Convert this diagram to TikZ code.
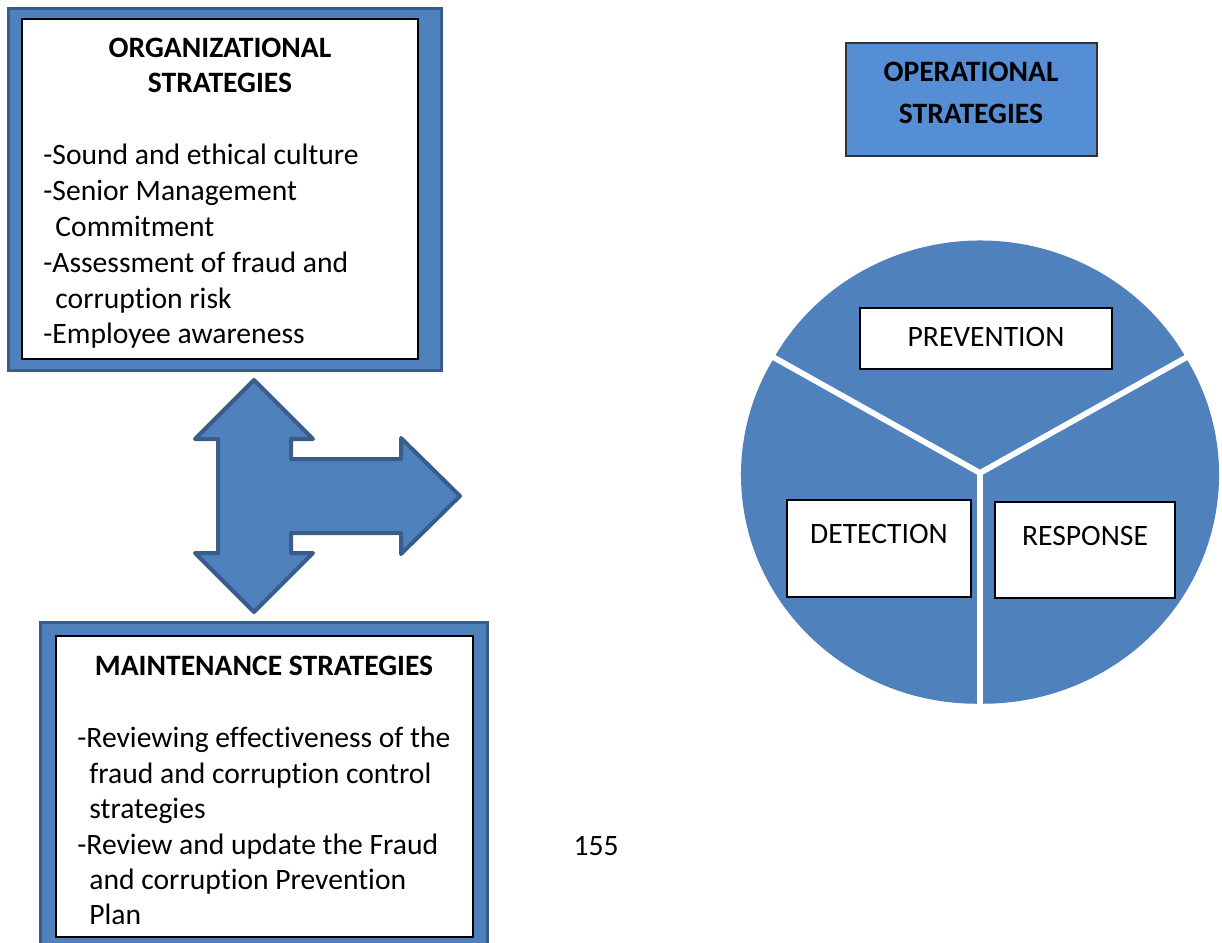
\documentclass[tikz,border=0pt]{standalone}
\usepackage{fontspec}
\setmainfont[Ligatures=NoCommon]{Carlito}
\usetikzlibrary{positioning}
\definecolor{boxblue}{RGB}{79,129,189}
\definecolor{edgeblue}{RGB}{56,93,138}
\definecolor{opblue}{RGB}{85,142,213}

\begin{document}
\begin{tikzpicture}[x=0.5pt,y=-0.5pt,
    frame/.style={fill=boxblue,draw=edgeblue,line width=1.5pt},
    paper/.style={fill=white,draw=black,line width=0.6pt},
    headtext/.style={inner sep=0pt,align=center,font=\fontsize{14.8}{17.5}\selectfont\bfseries},
    listtext/.style={inner sep=0pt,align=left,anchor=north west,font=\fontsize{14.8}{17.9}\selectfont},
    slicebox/.style={fill=white,draw=black,line width=0.6pt,inner sep=0pt},
    slicetext/.style={inner sep=0pt,font=\fontsize{14.8}{18}\selectfont}]
  \useasboundingbox (0,0) rectangle (1222,943);

  % organizational box
  \draw[frame] (8,8) rectangle (441,370);
  \draw[paper] (22,19) rectangle (418,359);
  \node[headtext,anchor=north] (orghead) at (220,38) {ORGANIZATIONAL\\STRATEGIES};
  \node[listtext] (orglist) at (43,144) {-Sound and ethical culture\\
    -Senior Management\\\hspace*{6pt}Commitment\\
    -Assessment of fraud and\\\hspace*{6pt}corruption risk\\
    -Employee awareness};

  % three way arrow
  \draw[fill=boxblue,draw=edgeblue,line width=2pt,line join=round]
    (254,380) -- (313,439) -- (291,439) -- (291,459) -- (401,459) -- (401,438)
    -- (460,496) -- (401,554) -- (401,533) -- (291,533) -- (291,553) -- (313,553)
    -- (254,612) -- (195,553) -- (218,553) -- (218,439) -- (195,439) -- cycle;

  % maintenance box
  \draw[frame] (40,622) rectangle (487,960);
  \draw[paper] (56,636) rectangle (473,937);
  \node[headtext,anchor=north] (mainthead) at (264,656) {MAINTENANCE STRATEGIES};
  \node[listtext,font=\fontsize{14.8}{17.7}\selectfont] (maintlist) at (77,727) {-Reviewing effectiveness of the\\
    \hspace*{6pt}fraud and corruption control\\\hspace*{6pt}strategies\\
    -Review and update the Fraud\\\hspace*{6pt}and corruption Prevention\\\hspace*{6pt}Plan};

  % operational box
  \draw[fill=opblue,draw=black!80,line width=0.6pt] (846,43) rectangle (1097,156);
  \node[headtext,font=\fontsize{14.8}{21}\selectfont\bfseries,anchor=north] (ophead) at (971,62) {OPERATIONAL\\STRATEGIES};

  % pie
  \foreach \a in {210,90,330}
    \fill[boxblue,shift={(\a+60:3.5)}] (980,473) -- ++(\a:236 and 229)
      arc[start angle=\a,end angle=\a+120,x radius=236,y radius=229] -- cycle;

  \node[slicebox,minimum width=126pt,minimum height=30.5pt] (prevbox) at (986,338.5) {};
  \node[slicetext] (prev) at (986,337) {PREVENTION};
  \node[slicebox,minimum width=92pt,minimum height=48.5pt] (detbox) at (879,548.5) {};
  \node[slicetext] (det) at (879,534) {DETECTION};
  \node[slicebox,minimum width=90pt,minimum height=48pt] (respbox) at (1085,550) {};
  \node[slicetext] (resp) at (1085,536) {RESPONSE};

  \node[font=\fontsize{14.8}{16}\selectfont] (page) at (596,846) {155};
\end{tikzpicture}
\end{document}
